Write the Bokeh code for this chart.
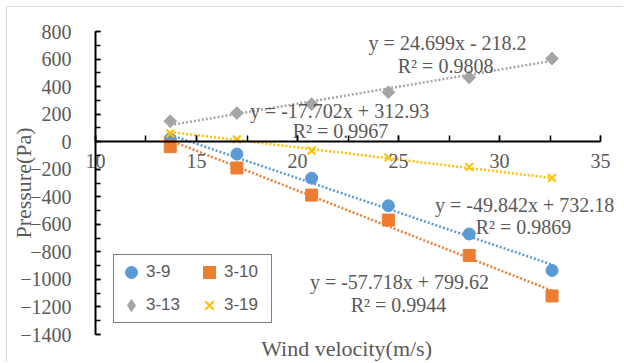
import numpy as np
from bokeh.plotting import figure
from bokeh.models import (Range1d, LinearAxis, SingleIntervalTicker, Legend, LegendItem)
from bokeh.core.properties import value
from bokeh.embed import file_html
from bokeh.resources import INLINE

# ---- data ----
wind = [13.7, 17.0, 20.7, 24.5, 28.5, 32.6]
p_3_9 = [20, -90, -265, -465, -670, -935]
p_3_10 = [-36, -191, -388, -569, -826, -1120]
p_3_13 = [149, 208, 273, 359, 467, 603]
p_3_19 = [60, 17, -65, -115, -184, -263]

series_names = ["3-9", "3-10", "3-13", "3-19"]
slopes = [-49.842, -57.718, 24.699, -17.702]
intercepts = [732.18, 799.62, -218.2, 312.93]
r_squared = [0.9869, 0.9944, 0.9808, 0.9967]

x_axis_bounds = (10, 35)
y_axis_bounds = (-1400, 800)
x_ticks_interval = 5
y_ticks_interval = 200

# ---- styles ----
colors = ["#5B9BD5", "#ED7D31", "#A5A5A5", "#FFC000"]
serif = "Liberation Serif"
sans = "Liberation Sans"
txt_col = "#595959"

p = figure(width=617, height=356, x_range=Range1d(5.6436, 36.188),
           y_range=Range1d(-1610.5, 974.26),
           output_backend="svg", toolbar_location=None,
           x_axis_type=None, y_axis_type=None,
           min_border_left=0, min_border_right=0, min_border_top=0, min_border_bottom=0)
p.outline_line_color = None
p.background_fill_color = "white"
p.border_fill_color = "white"
p.styles = {"margin-left": "6px", "margin-top": "6px",
            "border-left": "1px solid #d9d9d9", "border-top": "1px solid #d9d9d9"}

# y axis at x = 10
yaxis = LinearAxis(ticker=SingleIntervalTicker(interval=y_ticks_interval, num_minor_ticks=2),
                   axis_label="Pressure(Pa)", fixed_location=x_axis_bounds[0],
                   bounds=y_axis_bounds)
yaxis.axis_line_color = "black"
yaxis.axis_line_width = 2
yaxis.major_tick_in = 5
yaxis.major_tick_out = 0
yaxis.minor_tick_in = 5
yaxis.minor_tick_out = 0
yaxis.major_tick_line_width = 1.5
yaxis.minor_tick_line_width = 1.5
yaxis.major_label_standoff = 24
yaxis.major_label_text_font = serif
yaxis.major_label_text_font_size = "20px"
yaxis.major_label_text_color = txt_col
yaxis.axis_label_text_font = serif
yaxis.axis_label_text_font_size = "22px"
yaxis.axis_label_text_font_style = "normal"
yaxis.axis_label_text_color = txt_col
yaxis.axis_label_standoff = -19
p.add_layout(yaxis, "left")

# x axis at y = 0
xaxis = LinearAxis(ticker=SingleIntervalTicker(interval=x_ticks_interval, num_minor_ticks=2),
                   fixed_location=0, bounds=x_axis_bounds)
xaxis.axis_line_color = "black"
xaxis.axis_line_width = 2
xaxis.major_tick_in = 6
xaxis.major_tick_out = 0
xaxis.minor_tick_in = 6
xaxis.minor_tick_out = 0
xaxis.major_tick_line_width = 1.5
xaxis.minor_tick_line_width = 1.5
xaxis.major_label_standoff = 12
xaxis.major_label_text_font = serif
xaxis.major_label_text_font_size = "20px"
xaxis.major_label_text_color = txt_col
p.add_layout(xaxis, "below")

# x axis title (placed under the plot area)
p.text(x=[22.43], y=[-1501], text=["Wind velocity(m/s)"], text_font=value(serif),
       text_font_size="22px", text_color=txt_col, text_align="center",
       text_baseline="middle")

# trendlines
xmin, xmax = min(wind), max(wind)
for m, b, c in zip(slopes, intercepts, colors):
    p.line([xmin, xmax], [m * xmin + b, m * xmax + b], line_color=c, line_width=2.5,
           line_dash="2 2")

# markers
r1 = p.scatter(wind, p_3_9, marker="circle", size=12, fill_color=colors[0], line_color=colors[0])
r2 = p.scatter(wind, p_3_10, marker="square", size=12, fill_color=colors[1], line_color=colors[1])
r3 = p.scatter(wind, p_3_13, marker="diamond", size=12, fill_color=colors[2], line_color=colors[2])
p.scatter(wind, p_3_13, marker="square", size=9, angle=np.pi / 4,
          fill_color=colors[2], line_color=colors[2])
r4 = p.scatter(wind, p_3_19, marker="x", size=11, line_color=colors[3], line_width=2)

# equations
eq_text = []
for m, b in zip(slopes, intercepts):
    sign = "+" if b >= 0 else "-"
    eq_text.append(f"y = {m}x {sign} {abs(b)}")
eq_x = [31.24, 25.05, 27.43, 22.08]
eq_y = [-463, -1022, 720, 226]
r_text = [f"R² = {v:.4f}" for v in r_squared]
r_x = [31.19, 25.0, 27.33, 22.13]
r_y = [-623, -1189, 553, 81]

p.text(x=eq_x, y=eq_y, text=eq_text, text_font=value(serif), text_font_size="20px",
       text_color=txt_col, text_align="center", text_baseline="middle")
p.text(x=r_x, y=r_y, text=r_text, text_font=value(serif), text_font_size="20px",
       text_color=txt_col, text_align="center", text_baseline="middle")

legend = Legend(items=[LegendItem(label=series_names[0], renderers=[r1]),
                       LegendItem(label=series_names[2], renderers=[r3]),
                       LegendItem(label=series_names[1], renderers=[r2]),
                       LegendItem(label=series_names[3], renderers=[r4])],
                location=(106, 40), ncols=2)
legend.border_line_color = "black"
legend.border_line_width = 1.5
legend.background_fill_color = "white"
legend.background_fill_alpha = 1
legend.label_text_font = sans
legend.label_text_font_size = "17px"
legend.label_text_color = txt_col
legend.glyph_width = 30
legend.glyph_height = 30
legend.label_height = 30
legend.label_width = 45
legend.label_standoff = 0
legend.spacing = 3
legend.padding = 2
legend.margin = 0
p.add_layout(legend)

open("out.html", "w").write(file_html(p, INLINE))
